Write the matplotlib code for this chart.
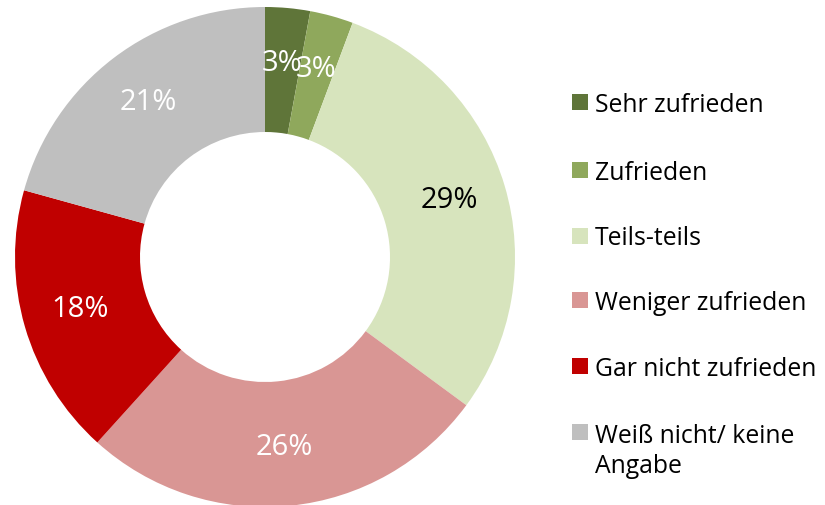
import numpy as np
import matplotlib as mpl
mpl.use('Agg')
import matplotlib.pyplot as plt
from matplotlib.patches import Rectangle

## Data

categories = ['Sehr zufrieden', 'Zufrieden', 'Teils-teils', 'Weniger zufrieden',
              'Gar nicht zufrieden', 'Weiß nicht/ keine\nAngabe']
shares = [2.9, 2.8, 29.4, 26.6, 17.6, 20.7]
pct_labels = ['3%', '3%', '29%', '26%', '18%', '21%']
colors = ['#5F7539', '#8FA85C', '#D7E4BD', '#D99694', '#C00000', '#BFBFBF']
label_colors = ['white', 'white', 'black', 'white', 'white', 'white']

plt.rcParams['font.family'] = ['Open Sans', 'DejaVu Sans']

W, H = 825, 506
fig = plt.figure(figsize=(W / 100, H / 100), dpi=100)

## Donut (center at 265,258 px, radius 250 px)
ax = fig.add_axes([15 / W, (H - 508) / H, 500 / W, 500 / H])
wedges, _ = ax.pie(shares, colors=colors, startangle=90, counterclock=False,
                   radius=1.0, wedgeprops=dict(width=0.5, linewidth=0))
ax.set_xlim(-1, 1)
ax.set_ylim(-1, 1)
ax.set_aspect('equal')
ax.axis('off')

for w, lab, c in zip(wedges, pct_labels, label_colors):
    ang = np.deg2rad((w.theta1 + w.theta2) / 2)
    r = 0.77
    ax.text(r * np.cos(ang), r * np.sin(ang) + 0.01, lab, ha='center', va='center',
            fontsize=21, color=c)

## Legend (drawn by hand to match spacing)
ys = [103, 171, 237, 301, 367, 433]
for y, cat, col in zip(ys, categories, colors):
    fig.patches.append(Rectangle((572 / W, 1 - (y + 8) / H), 16 / W, 16 / H,
                                 transform=fig.transFigure, facecolor=col,
                                 edgecolor='none'))
    n = cat.count('\n')
    fig.text(595 / W, 1 - (y + 2 + n * 16.5) / H, cat, ha='left', va='center',
             fontsize=17.8, color='black', linespacing=1.3)

fig.savefig('out.png', dpi=100)
